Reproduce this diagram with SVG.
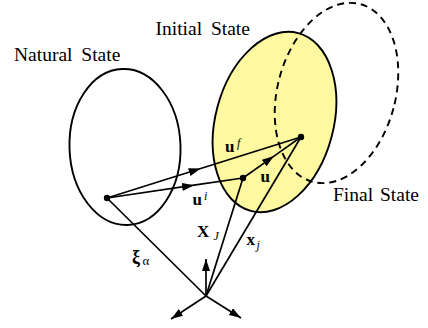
<svg xmlns="http://www.w3.org/2000/svg" width="428" height="328" viewBox="0 0 428 328">
<defs>
<style>
text{font-family:'Liberation Serif','Times New Roman',serif;fill:#000}
.st{font-size:19.5px}
.m{font-size:17px;font-weight:bold}
.s{font-size:12px;font-style:italic}
.ln{stroke:#000;stroke-width:1.7;fill:none}
.el{stroke:#000;stroke-width:1.9}
</style>
<marker id="ah" viewBox="0 0 12 8" refX="12" refY="4" markerWidth="12" markerHeight="8" markerUnits="userSpaceOnUse" orient="auto">
<path d="M0,0 L12,4 L0,8 Z" fill="#000"/>
</marker>
</defs>
<rect width="428" height="328" fill="#fff"/>
<g id="initial-state">
<ellipse class="el" cx="274.5" cy="122" rx="59" ry="92" transform="rotate(15 274.5 122)" fill="#FEF8A0"/>
</g>
<g id="natural-state">
<ellipse class="el" cx="125" cy="147" rx="55.5" ry="78" transform="rotate(-2 125 147)" fill="none"/>
</g>
<g id="final-state">
<ellipse class="el" cx="336.5" cy="93" rx="59" ry="92" transform="rotate(15 336.5 93)" fill="none" stroke-dasharray="7,5"/>
</g>
<g id="connectors">
<path class="ln" d="M107,198 L200.7,168.5 L301,137" marker-mid="url(#ah)"/>
<path class="ln" d="M107,198 L194,185.2 L243,178" marker-mid="url(#ah)"/>
<path class="ln" d="M243,178 L274,156.1 L301,137" marker-mid="url(#ah)"/>
<line class="ln" x1="206" y1="296" x2="107" y2="198"/>
<line class="ln" x1="206" y1="296" x2="243" y2="178"/>
<line class="ln" x1="206" y1="296" x2="301" y2="137"/>
<line class="ln" x1="206" y1="296" x2="206" y2="259" marker-end="url(#ah)"/>
<line class="ln" x1="206" y1="296" x2="171" y2="319" marker-end="url(#ah)"/>
<line class="ln" x1="206" y1="296" x2="241" y2="318" marker-end="url(#ah)"/>
</g>
<g id="points">
<circle cx="107" cy="198" r="3.2" fill="#000"/>
<circle cx="243" cy="178" r="3.2" fill="#000"/>
<circle cx="301" cy="137" r="3.2" fill="#000"/>
</g>
<g id="labels">
<text class="st" x="14" y="61" word-spacing="4">Natural State</text>
<text class="st" x="155.5" y="35" word-spacing="4">Initial State</text>
<text class="st" x="333" y="200.5" word-spacing="2">Final State</text>
<text class="m" x="225" y="152">u</text>
<text class="s" x="237" y="147">f</text>
<text class="m" x="192.5" y="205">u</text>
<text class="s" x="204" y="200">i</text>
<text class="m" x="260.5" y="182">u</text>
<text class="m" x="197" y="237">X</text>
<text class="s" x="213.5" y="240">J</text>
<text class="m" x="246.5" y="245">x</text>
<text class="s" x="256.5" y="249">j</text>
<text x="132" y="263" font-size="18" font-weight="bold">ξ</text>
<text x="142.5" y="265" font-size="13">α</text>
</g>
</svg>
